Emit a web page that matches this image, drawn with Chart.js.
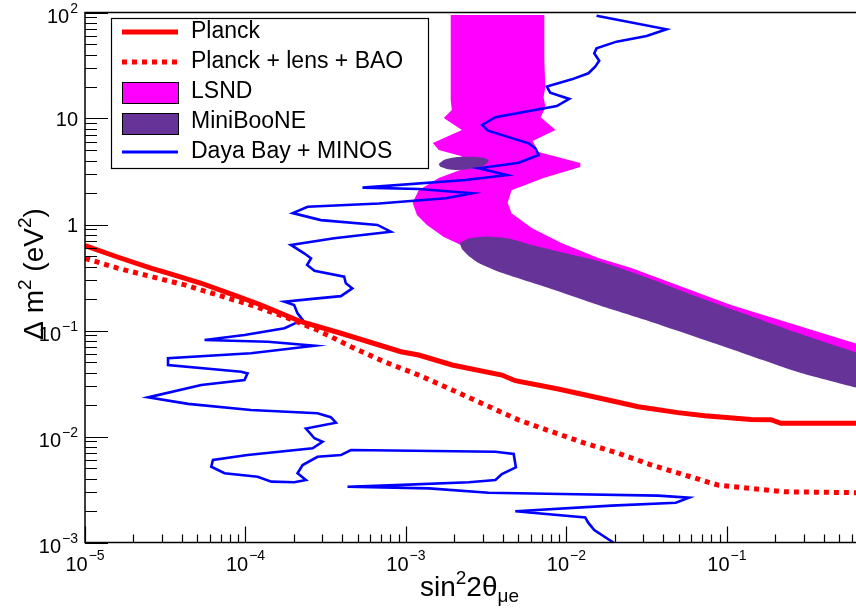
<!DOCTYPE html>
<html>
<head>
<meta charset="utf-8">
<script src="https://cdn.jsdelivr.net/npm/chart.js@4.4.1/dist/chart.umd.min.js"></script>
<style>
  html, body { margin: 0; padding: 0; background: #fff; }
  #wrap { width: 856px; height: 612px; }
</style>
</head>
<body>
<div id="wrap"><canvas id="c" width="856" height="612"></canvas></div>
<script>
// axis ranges (log10)
const xMin = 1e-5, xMax = 0.637;
const yMin = 1e-3, yMax = 100;
const xTickExps = [-5, -4, -3, -2, -1];
const yTickExps = [-3, -2, -1, 0, 1, 2];

// Planck (solid)
const planckX = [1e-5, 1.61e-5, 2.6e-5, 3.29e-5, 5.3e-5, 8.5e-5, 1.25e-4, 2.22e-4, 3.93e-4, 9.3e-4, 1.2e-3,
  1.94e-3, 3.96e-3, 4.8e-3, 8.9e-3, 1.82e-2, 2.8e-2, 4.96e-2, 7.27e-2, 0.1416, 0.188, 0.217, 0.65];
const planckY = [0.631, 0.491, 0.386, 0.347, 0.279, 0.216, 0.174, 0.121, 0.0942, 0.0631, 0.0587,
  0.0473, 0.038, 0.0336, 0.0281, 0.0221, 0.0191, 0.0168, 0.0157, 0.0145, 0.0144, 0.0133, 0.0133];

// Planck + lens + BAO (dotted)
const planckBaoX = [1e-5, 1.61e-5, 2.6e-5, 4.18e-5, 6.73e-5, 1.08e-4, 1.75e-4, 2.81e-4, 4.54e-4, 7.3e-4, 1.2e-3,
  1.94e-3, 3.13e-3, 5.04e-3, 8.1e-3, 1.31e-2, 2.1e-2, 3.39e-2, 5.46e-2, 8.8e-2, 0.1416, 0.228, 0.65];
const planckBaoY = [0.48, 0.386, 0.322, 0.269, 0.216, 0.174, 0.135, 0.101, 0.0703, 0.0508, 0.038,
  0.0275, 0.0198, 0.0143, 0.0111, 0.00863, 0.00695, 0.00538, 0.00433, 0.00348, 0.00324, 0.00301, 0.00295];

// LSND allowed region (closed outline)
const lsndX = [1.90e-3, 1.90e-3, 1.93e-3, 1.72e-3, 2.23e-3, 1.47e-3, 1.60e-3, 2.20e-3, 2.64e-3, 1.60e-3, 1.20e-3,
  1.10e-3, 1.17e-3, 1.35e-3, 1.72e-3, 2.20e-3,
  2.46e-3, 7.73e-3, 3.23e-2, 0.135, 1.0,
  1.0, 0.106, 2.54e-2, 1.58e-2, 9.3e-3, 6.07e-3, 4.55e-3, 4.3e-3, 4.55e-3, 7.2e-3, 1.22e-2, 1.22e-2,
  6.7e-3, 6.15e-3, 8.55e-3, 6.9e-3, 7.41e-3, 7.2e-3, 7.38e-3, 7.28e-3, 7.28e-3];
const lsndY = [94.7, 14.9, 12.0, 10.1, 7.8, 5.87, 5.05, 4.43, 3.64, 2.75, 2.11,
  1.60, 1.23, 0.99, 0.762, 0.641,
  0.6, 0.389, 0.194, 0.0908, 0.034,
  0.061, 0.174, 0.389, 0.483, 0.668, 0.927, 1.28, 1.60, 2.11, 2.75, 3.48, 3.8,
  4.83, 6.13, 7.8, 10.3, 12.8, 15.9, 19.8, 35.6, 94.7];

// MiniBooNE allowed regions
const booneX = [2.16e-3, 2.46e-3, 3.14e-3, 4.37e-3, 6.07e-3, 9.73e-3, 1.58e-2, 3.23e-2, 6.6e-2, 0.135, 0.276, 0.65, 1.0,
  1.0, 0.65, 0.276, 0.106, 3.08e-2, 1.58e-2, 7.73e-3, 3.78e-3, 2.84e-3, 2.46e-3, 2.23e-3];
const booneY = [0.668, 0.738, 0.771, 0.738, 0.641, 0.539, 0.453, 0.313, 0.207, 0.140, 0.0946, 0.0614, 0.0494,
  0.0241, 0.0287, 0.0406, 0.0668, 0.126, 0.174, 0.252, 0.359, 0.434, 0.505, 0.587];
const booneIslandX = [1.60e-3, 1.75e-3, 2.08e-3, 2.54e-3, 3.0e-3, 3.27e-3, 3.09e-3, 2.6e-3, 2.14e-3, 1.8e-3, 1.63e-3];
const booneIslandY = [3.72, 4.10, 4.33, 4.36, 4.28, 4.02, 3.64, 3.37, 3.27, 3.34, 3.52];

// Daya Bay + MINOS exclusion contour
const dayaX = [1.54e-2, 4.2e-2, 3.16e-2, 2.05e-2, 1.54e-2, 1.49e-2, 1.60e-2, 1.51e-2, 1.37e-2, 1.08e-2,
  7.55e-3, 7.92e-3, 1.04e-2, 8.71e-3, 5.53e-3, 3.61e-3, 2.98e-3, 3.24e-3, 5.81e-3, 6.4e-3,
  6.7e-3, 5.04e-3, 2.84e-3, 4.26e-3, 2.35e-3, 5.36e-4, 1.2e-3, 2.58e-3, 1.77e-3, 6.79e-4,
  2.44e-4, 1.97e-4, 2.95e-4, 6.64e-4, 8.04e-4, 3.57e-4, 1.92e-4, 2.32e-4, 2.56e-4, 2.42e-4,
  2.69e-4, 4.12e-4, 4.22e-4, 4.63e-4, 3.93e-4, 2.81e-4, 1.75e-4, 2.01e-4, 2.11e-4, 2.27e-4,
  1.75e-4, 9.86e-5, 5.56e-5, 1.38e-4, 2.69e-4, 1.08e-4, 3.29e-5, 3.29e-5, 9.4e-5, 1.03e-4,
  9.86e-5, 5.3e-5, 2.47e-5, 4.39e-5, 1.08e-4, 2.81e-4, 3.4e-4, 3.66e-4, 2.38e-4, 2.69e-4,
  3.02e-4, 2.62e-4, 1.03e-4, 6.27e-5, 6.12e-5, 7.41e-5, 1.19e-4, 1.45e-4, 2.01e-4, 2.38e-4,
  2.11e-4, 2.27e-4, 2.81e-4, 3.93e-4, 4.54e-4, 3.61e-3, 4.69e-3, 4.84e-3, 3.96e-3, 3.61e-3,
  2.46e-3, 8.63e-4, 4.32e-4, 1.39e-3, 3.27e-3, 9.35e-3, 3.72e-2, 5.81e-2, 4.8e-2, 1.91e-2,
  4.8e-3, 1.31e-2, 1.37e-2, 1.49e-2, 1.96e-2];
const dayaY = [93.3, 69.5, 60.0, 53.1, 45.9, 41.2, 35.1, 30.8, 26.7, 23.4,
  20.0, 17.5, 15.3, 13.1, 11.6, 10.3, 8.69, 7.67, 5.83, 5.24,
  4.53, 3.83, 3.39, 2.93, 2.63, 2.23, 2.16, 1.97, 1.77, 1.58,
  1.47, 1.28, 1.10, 0.99, 0.855, 0.741, 0.641, 0.535, 0.48, 0.415,
  0.366, 0.322, 0.279, 0.25, 0.211, 0.201, 0.187, 0.174, 0.145, 0.126,
  0.105, 0.0908, 0.0813, 0.0784, 0.0719, 0.061, 0.0547, 0.0473, 0.0408, 0.0394,
  0.0341, 0.0306, 0.0234, 0.0203, 0.0178, 0.0166, 0.0152, 0.0135, 0.0119, 0.00962,
  0.00893, 0.00774, 0.00668, 0.006, 0.00519, 0.0045, 0.00418, 0.00375, 0.0037, 0.00389,
  0.0045, 0.00538, 0.00644, 0.00668, 0.00746, 0.00719, 0.00684, 0.00512, 0.00443, 0.00389,
  0.0037, 0.00348, 0.00336, 0.00324, 0.00295, 0.00287, 0.00277, 0.00265, 0.00237, 0.00223,
  0.00197, 0.00172, 0.00153, 0.00131, 0.001];

const RED = '#ff0000', BLUE = '#0000ff', MAGENTA = '#ff00ff', PURPLE = '#663399';
const FONT = '"Liberation Sans", Arial, Helvetica, sans-serif';

const toPts = (xs, ys) => xs.map((x, i) => ({ x: x, y: ys[i] }));

// draws "10" with a raised exponent
function drawPow(ctx, exp, x, mainBase, expBase, align) {
  const main = '10';
  const sup = exp < 0 ? '\u2212' + Math.abs(exp) : String(exp);
  ctx.font = '20px ' + FONT;
  const w1 = ctx.measureText(main).width;
  ctx.font = '14px ' + FONT;
  const w2 = ctx.measureText(sup).width;
  const w = w1 + 1 + w2;
  const x0 = align === 'center' ? x - w / 2 : x - w;
  ctx.font = '20px ' + FONT;
  ctx.fillText(main, x0, mainBase);
  ctx.font = '14px ' + FONT;
  ctx.fillText(sup, x0 + w1 + 1, expBase);
}

// draws a run of [text, size, shift] pieces on one baseline
function drawRich(ctx, parts, x, y) {
  let cx = x;
  parts.forEach(([t, size, shift]) => {
    ctx.font = size + 'px ' + FONT;
    ctx.fillText(t, cx, y + shift);
    cx += ctx.measureText(t).width;
  });
}
function richWidth(ctx, parts) {
  let w = 0;
  parts.forEach(([t, size]) => {
    ctx.font = size + 'px ' + FONT;
    w += ctx.measureText(t).width;
  });
  return w;
}

const rootAxes = {
  id: 'rootAxes',
  afterDatasetsDraw(chart) {
    const { ctx, chartArea: a, scales: { x, y } } = chart;
    ctx.save();
    ctx.strokeStyle = '#000';
    ctx.fillStyle = '#000';

    // ticks, drawn inside the frame
    ctx.lineWidth = 1.2;
    ctx.beginPath();
    for (let e = -5; e <= 0; e++) {
      for (let k = 1; k <= 9; k++) {
        const v = k * Math.pow(10, e);
        if (v < xMin * 0.999 || v > xMax) continue;
        const px = Math.round(x.getPixelForValue(v)) + 0.5;
        const len = k === 1 ? 16 : 8;
        ctx.moveTo(px, a.bottom);
        ctx.lineTo(px, a.bottom - len);
      }
    }
    for (let e = -3; e <= 2; e++) {
      for (let k = 1; k <= 9; k++) {
        const v = k * Math.pow(10, e);
        if (v < yMin * 0.999 || v > yMax * 1.001) continue;
        const py = Math.round(y.getPixelForValue(v)) + 0.5;
        const len = k === 1 ? 23 : 12;
        ctx.moveTo(a.left, py);
        ctx.lineTo(a.left + len, py);
      }
    }
    ctx.stroke();

    // frame
    ctx.lineWidth = 1.5;
    ctx.beginPath();
    ctx.moveTo(a.right + 2, a.top);
    ctx.lineTo(a.left, a.top);
    ctx.lineTo(a.left, a.bottom);
    ctx.lineTo(a.right + 2, a.bottom);
    ctx.stroke();

    // tick labels
    ctx.textBaseline = 'alphabetic';
    ctx.textAlign = 'left';
    xTickExps.forEach(e => {
      const px = x.getPixelForValue(Math.pow(10, e));
      drawPow(ctx, e, px, a.bottom + 28.5, a.bottom + 17.5, 'center');
    });
    yTickExps.forEach(e => {
      const py = y.getPixelForValue(Math.pow(10, e));
      if (e === 0 || e === 1) {
        ctx.font = '20px ' + FONT;
        const t = e === 0 ? '1' : '10';
        ctx.fillText(t, 78 - ctx.measureText(t).width, py + 7.5);
      } else {
        drawPow(ctx, e, 78, py + 10.5, py + 0.5, 'right');
      }
    });

    // axis titles
    drawRich(ctx, [['sin', 28, 0], ['2', 19, -12], ['2\u03b8', 28, 0], ['\u03bce', 19, 6]], 420, 596);
    const yParts = [['\u0394', 28, 0], [' m', 28, 0], ['2', 19, -12], [' (eV', 28, 0], ['2', 19, -12], [')', 28, 0]];
    const yw = richWidth(ctx, yParts);
    ctx.save();
    ctx.translate(43, 274);
    ctx.rotate(-Math.PI / 2);
    drawRich(ctx, yParts, -yw / 2, 0);
    ctx.restore();

    // legend
    ctx.fillStyle = '#fff';
    ctx.fillRect(111, 18, 317, 150);
    ctx.lineWidth = 1.2;
    ctx.strokeStyle = '#000';
    ctx.strokeRect(111.5, 18.5, 317, 150);

    ctx.lineCap = 'butt';
    ctx.strokeStyle = RED;
    ctx.lineWidth = 5;
    ctx.beginPath(); ctx.moveTo(122, 32); ctx.lineTo(178, 32); ctx.stroke();
    ctx.setLineDash([5, 5]);
    ctx.beginPath(); ctx.moveTo(122, 62); ctx.lineTo(178, 62); ctx.stroke();
    ctx.setLineDash([]);

    ctx.lineWidth = 1;
    ctx.strokeStyle = '#000';
    ctx.fillStyle = MAGENTA;
    ctx.fillRect(122, 82.5, 56, 21);
    ctx.strokeRect(122.5, 82.5, 56, 21);
    ctx.fillStyle = PURPLE;
    ctx.fillRect(122, 113, 56, 21);
    ctx.strokeRect(122.5, 113.5, 56, 21);

    ctx.strokeStyle = BLUE;
    ctx.lineWidth = 3;
    ctx.beginPath(); ctx.moveTo(122, 152); ctx.lineTo(178, 152); ctx.stroke();

    ctx.fillStyle = '#000';
    ctx.font = '23px ' + FONT;
    ctx.textBaseline = 'middle';
    ['Planck', 'Planck + lens + BAO', 'LSND', 'MiniBooNE', 'Daya Bay + MINOS'].forEach((t, i) => {
      ctx.fillText(t, 191, 32 + 30 * i);
    });
    ctx.restore();
  }
};

new Chart(document.getElementById('c'), {
  type: 'scatter',
  data: {
    datasets: [
      { label: 'Planck', data: toPts(planckX, planckY), showLine: true, pointRadius: 0,
        borderColor: RED, borderWidth: 5, fill: false, order: 0 },
      { label: 'Planck + lens + BAO', data: toPts(planckBaoX, planckBaoY), showLine: true, pointRadius: 0,
        borderColor: RED, borderWidth: 5, borderDash: [5, 5], borderCapStyle: 'butt', fill: false, order: 1 },
      { label: 'Daya Bay + MINOS', data: toPts(dayaX, dayaY), showLine: true, pointRadius: 0,
        borderColor: BLUE, borderWidth: 2.6, fill: false, order: 2 },
      { label: 'MiniBooNE', data: toPts(booneX, booneY), showLine: true, pointRadius: 0, tension: 0.2,
        borderColor: 'rgba(0,0,0,0)', backgroundColor: PURPLE, fill: 'shape', order: 3 },
      { label: 'MiniBooNE 2', data: toPts(booneIslandX, booneIslandY), showLine: true, pointRadius: 0, tension: 0.3,
        borderColor: 'rgba(0,0,0,0)', backgroundColor: PURPLE, fill: 'shape', order: 4 },
      { label: 'LSND', data: toPts(lsndX, lsndY), showLine: true, pointRadius: 0,
        borderColor: 'rgba(0,0,0,0)', backgroundColor: MAGENTA, fill: 'shape', order: 5 }
    ]
  },
  options: {
    responsive: false,
    animation: false,
    devicePixelRatio: 1,
    layout: { padding: { top: 12.5, right: 0, left: 0, bottom: 0 } },
    plugins: { legend: { display: false }, tooltip: { enabled: false } },
    scales: {
      x: {
        type: 'logarithmic', min: xMin, max: xMax,
        grid: { display: false }, border: { display: false }, ticks: { display: false },
        afterFit(s) { s.height = 69.5; }
      },
      y: {
        type: 'logarithmic', min: yMin, max: yMax,
        grid: { display: false }, border: { display: false }, ticks: { display: false },
        afterFit(s) { s.width = 85; }
      }
    }
  },
  plugins: [rootAxes]
});
</script>
</body>
</html>
